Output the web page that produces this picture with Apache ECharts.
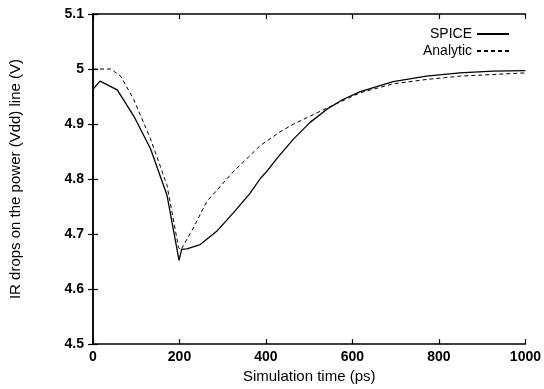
<!DOCTYPE html>
<html>
<head>
<meta charset="utf-8">
<script src="https://cdn.jsdelivr.net/npm/echarts@6/dist/echarts.min.js"></script>
<style>html,body{margin:0;padding:0;background:#fff}#c{width:544px;height:389px}</style>
</head>
<body>
<div id="c"></div>
<script>
const xTicks = [0, 200, 400, 600, 800, 1000];
const yTicks = [4.5, 4.6, 4.7, 4.8, 4.9, 5.0, 5.1];
const spiceX = [0, 2, 16, 56, 94, 133, 171, 199, 205, 217, 248, 286, 324, 363, 387, 401, 425, 464, 502, 541, 579, 618, 694, 771, 848, 925, 1000];
const spiceY = [4.963, 4.966, 4.978, 4.962, 4.915, 4.855, 4.771, 4.652, 4.672, 4.673, 4.681, 4.705, 4.738, 4.774, 4.801, 4.813, 4.837, 4.873, 4.903, 4.927, 4.945, 4.959, 4.977, 4.987, 4.993, 4.996, 4.997];
const analyticX = [0, 41, 64, 94, 133, 171, 198, 203, 232, 263, 324, 387, 431, 464, 541, 618, 694, 771, 848, 925, 1000];
const analyticY = [5.0, 5.0, 4.987, 4.945, 4.873, 4.789, 4.675, 4.671, 4.711, 4.759, 4.813, 4.861, 4.885, 4.9, 4.929, 4.957, 4.973, 4.981, 4.987, 4.990, 4.993];

const zip = (xs, ys) => xs.map((x, i) => [x, ys[i]]);
const font = 'Liberation Sans';
const axisLine = { show: true, lineStyle: { color: '#000', width: 1.5 } };
const tick = { show: true, inside: true, length: 5, lineStyle: { color: '#000', width: 1.2 } };

const chart = echarts.init(document.getElementById('c'), null, { renderer: 'canvas' });
chart.setOption({
  animation: false,
  backgroundColor: '#fff',
  grid: { left: 92, right: 18, top: 14, bottom: 41, containLabel: false },
  legend: {
    orient: 'vertical', right: 29, top: 22, align: 'right',
    itemWidth: 32, itemHeight: 14, itemGap: 3,
    itemStyle: { opacity: 0 },
    textStyle: { fontFamily: font, fontSize: 14, color: '#000' },
    data: ['SPICE', 'Analytic']
  },
  xAxis: [{
    type: 'value', min: 0, max: 1000, interval: 200,
    name: 'Simulation time (ps)', nameLocation: 'middle', nameGap: 24,
    nameTextStyle: { fontFamily: font, fontSize: 15, color: '#000' },
    axisLine, axisTick: tick, splitLine: { show: false },
    axisLabel: { fontFamily: font, fontSize: 14, fontWeight: 'bold', color: '#000', margin: 6,
      formatter: v => xTicks.includes(v) ? String(v) : '' }
  }, {
    type: 'value', min: 0, max: 1000, interval: 200, position: 'top',
    axisLine, axisTick: tick, splitLine: { show: false }, axisLabel: { show: false }
  }],
  yAxis: [{
    type: 'value', min: 4.5, max: 5.1, interval: 0.1,
    name: 'IR drops on the power (Vdd) line (V)', nameLocation: 'middle', nameGap: 70,
    nameTextStyle: { fontFamily: font, fontSize: 15, color: '#000' },
    axisLine, axisTick: tick, splitLine: { show: false },
    axisLabel: { fontFamily: font, fontSize: 14, fontWeight: 'bold', color: '#000', margin: 9,
      formatter: v => { const t = yTicks.find(y => Math.abs(y - v) < 1e-6); return t === undefined ? '' : String(t); } }
  }, {
    type: 'value', min: 4.5, max: 5.1, interval: 0.1, position: 'right',
    axisLine, axisTick: tick, splitLine: { show: false }, axisLabel: { show: false }
  }],
  series: [{
    name: 'SPICE', type: 'line', symbol: 'none', smooth: false,
    data: zip(spiceX, spiceY),
    lineStyle: { color: '#000', width: 1.3, type: 'solid' }, itemStyle: { color: '#000' }
  }, {
    name: 'Analytic', type: 'line', symbol: 'none', smooth: false,
    data: zip(analyticX, analyticY),
    lineStyle: { color: '#000', width: 1, type: [4, 3] }, itemStyle: { color: '#000' }
  }]
});
</script>
</body>
</html>
